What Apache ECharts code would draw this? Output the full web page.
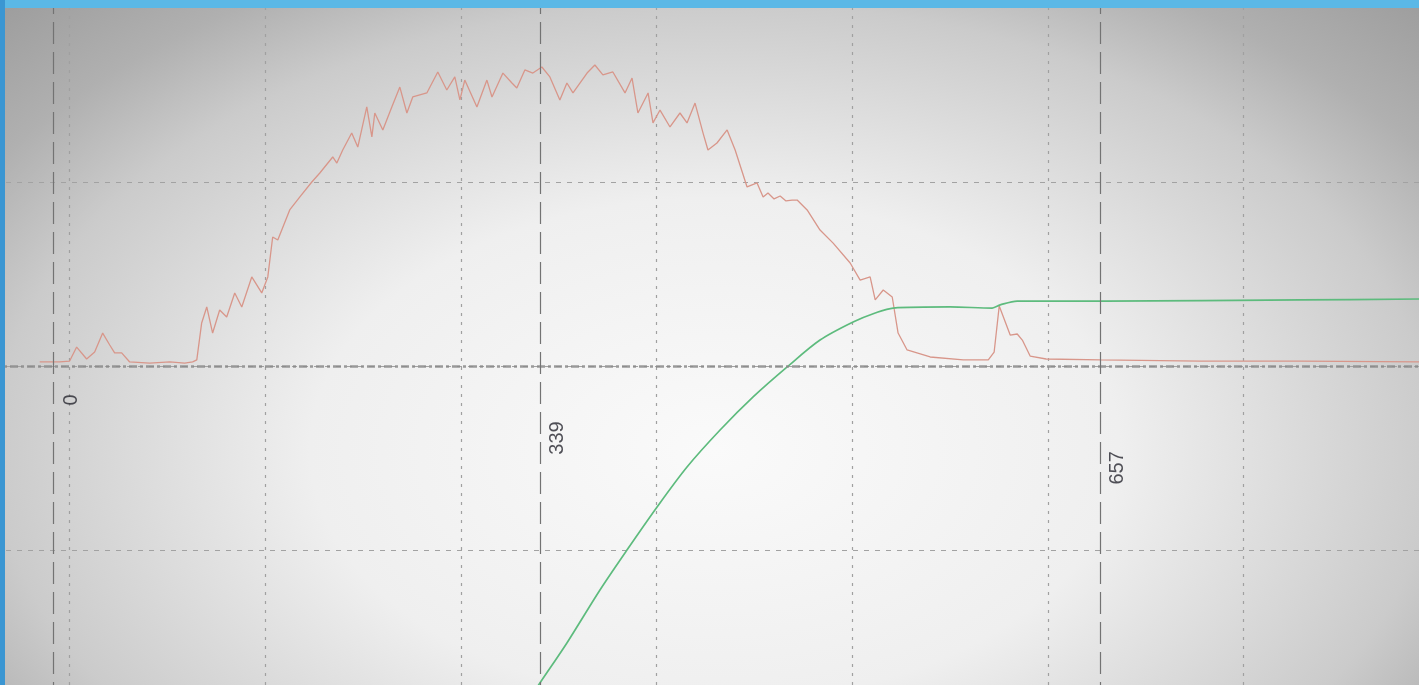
<!DOCTYPE html>
<html>
<head>
<meta charset="utf-8">
<script src="https://cdn.jsdelivr.net/npm/echarts@6/dist/echarts.min.js"></script>
<style>
  html, body { margin: 0; padding: 0; width: 1419px; height: 685px; overflow: hidden; position: relative; }
  #paper {
    position: absolute; left: 0; top: 0; width: 1419px; height: 685px;
    background: radial-gradient(ellipse 900px 560px at 715px 450px,
      #fafafa 0%, #efefef 45%, #cbcbcb 80%, #b0b0b0 95%, #9a9a9a 115%);
  }
  #frameTop { position: absolute; left: 0; top: 0; width: 1419px; height: 8px; background: #5bb8e6; }
  #frameLeft { position: absolute; left: 0; top: 0; width: 5px; height: 685px; background: #3b96d2; }
  /* plot area is larger than the window so the outer grid divisions run off the edges */
  #chart { position: absolute; left: -126px; top: -2px; width: 1565px; height: 736px; }
</style>
</head>
<body>
<div id="paper"></div>
<div id="chart"></div>
<div id="frameTop"></div>
<div id="frameLeft"></div>
<script>
// Trace 1 (red, noisy hump): time positions and amplitudes
const redX = [-15.3, -5.1, 0, 3.6, 8.7, 12.8, 16.9, 20.5, 23.0, 26.6, 30.7, 40.9, 51.2, 58.8, 62.9,
  65.0, 67.5, 70.1, 73.1, 76.7, 80.3, 84.4, 88.0, 93.1, 98.2, 101.3, 103.8, 106.4, 112.5, 117.6,
  123.8, 127.9, 134.5, 136.6, 139.6, 144.2, 147.3, 151.9, 154.5, 156.0, 160.1, 164.7, 168.8, 172.4,
  175.4, 182.6, 188.2, 192.8, 196.9, 199.5, 202.0, 208.2, 213.3, 215.9, 221.5, 226.1, 228.6, 232.7,
  236.8, 241.4, 245.5, 250.6, 254.2, 257.3, 264.5, 268.5, 272.6, 277.7, 283.9, 287.5, 290.5, 295.7,
  298.2, 301.8, 306.9, 312.0, 315.6, 319.7, 323.8, 326.3, 330.9, 336.1, 340.2, 346.3, 351.4, 354.5,
  357.0, 360.1, 363.2, 366.2, 369.3, 371.9, 377.0, 383.6, 390.3, 399.0, 404.1, 409.2, 411.8, 415.9,
  420.5, 423.5, 428.1, 439.9, 456.8, 469.6, 472.6, 475.2, 480.8, 484.4, 487.0, 491.0, 499.2, 526.9,
  578.0, 629.2, 690.0];
const redY = [2.2, 2.2, 2.7, 10.3, 3.8, 7.6, 17.9, 11.4, 7.1, 7.1, 2.2, 1.6, 2.2, 1.6, 2.2,
  3.3, 23.4, 32.1, 17.9, 30.4, 26.6, 39.7, 32.1, 48.4, 39.7, 48.4, 70.1, 68.5, 84.8, 91.8,
  100.0, 104.9, 113.6, 110.3, 117.4, 126.6, 119.0, 140.8, 124.5, 137.5, 128.3, 140.8, 151.6, 137.5,
  146.2, 148.4, 159.8, 150.0, 157.1, 144.6, 155.4, 140.8, 155.4, 146.2, 159.2, 153.8, 151.1, 160.9,
  159.2, 162.5, 157.1, 144.6, 153.8, 148.4, 159.2, 163.6, 158.2, 159.8, 148.4, 156.5, 137.5, 148.4,
  132.1, 139.1, 129.9, 137.5, 132.1, 142.9, 126.6, 117.4, 121.2, 128.3, 117.4, 97.3, 99.5, 91.8,
  94.0, 90.8, 92.4, 89.7, 90.2, 90.2, 84.8, 73.9, 66.8, 56.0, 46.7, 48.4, 35.9, 41.3,
  37.5, 17.9, 8.7, 4.9, 3.3, 3.3, 7.6, 32.6, 16.8, 17.4, 14.1, 5.4, 3.8, 3.3,
  2.7, 2.7, 2.2];

// Trace 2 (green, rising S-curve that settles)
const greenX = [223.0, 240.4, 254.2, 271.1, 284.9, 300.3, 315.6, 332.5, 349.4, 366.8, 383.6, 400.5,
  411.8, 421.0, 450.1, 471.6, 475.7, 484.4, 529.4, 629.2, 690.0];
const greenY = [-200.0, -172.3, -150.5, -121.7, -100.0, -76.6, -54.9, -34.8, -16.8, -0.5, 14.1, 23.9,
  28.8, 31.5, 32.1, 31.5, 33.2, 35.3, 35.3, 35.9, 36.4];

// Cursor markers and their captions
const markerX = [-8.2, 240.4, 526.9];
const markerText = ['0', '339', '657'];

// Axis divisions
const xTicks = { min: -100, max: 700, step: 100 };
const yTicks = { min: -200, max: 200, step: 100 };

// caption placement (data units): shift right of cursor, height of each caption
const CAPTION_DX = 9;
const CAPTION_Y = [-18.5, -39.1, -55.4];

const zip = (xs, ys) => xs.map((x, i) => [x, ys[i]]);

const chart = echarts.init(document.getElementById('chart'), null, { renderer: 'canvas' });

chart.setOption({
  animation: false,
  backgroundColor: 'transparent',
  grid: { left: 0, right: 0, top: 0, bottom: 0, containLabel: false },
  xAxis: {
    type: 'value', min: xTicks.min, max: xTicks.max, interval: xTicks.step,
    axisLine: { show: false }, axisTick: { show: false }, axisLabel: { show: false },
    splitLine: { show: true, lineStyle: { color: '#a0a0a0', width: 1.2, type: [3, 6] } }
  },
  yAxis: {
    type: 'value', min: yTicks.min, max: yTicks.max, interval: yTicks.step,
    axisLine: { show: false }, axisTick: { show: false }, axisLabel: { show: false },
    splitLine: { show: true, lineStyle: { color: '#a2a2a2', width: 1.2, type: [5, 6] } }
  },
  series: [
    {
      // zero reference line and cursor markers
      type: 'line', data: [], silent: true,
      markLine: {
        silent: true, symbol: 'none', animation: false,
        label: { show: false },
        data: [
          { yAxis: 0, lineStyle: { color: '#8a8a8a', width: 2.6, type: [8, 3, 3, 3], opacity: 0.85 } },
          ...markerX.map(x => ({ xAxis: x, lineStyle: { color: '#737373', width: 1.2, type: [22, 8] } }))
        ]
      }
    },
    {
      name: 'trace1', type: 'line', data: zip(redX, redY),
      showSymbol: false, symbol: 'none', smooth: false,
      lineStyle: { color: '#d8968a', width: 1.3 }, z: 3
    },
    {
      name: 'trace2', type: 'line', data: zip(greenX, greenY),
      showSymbol: false, symbol: 'none', smooth: 0.3,
      lineStyle: { color: '#5dbb7d', width: 1.7 }, z: 4
    },
    {
      // cursor captions
      type: 'scatter', symbolSize: 0, silent: true, z: 5,
      data: markerX.map((x, i) => ({ value: [x + CAPTION_DX, CAPTION_Y[i]], name: markerText[i] })),
      label: {
        show: true, position: 'inside', rotate: 90,
        formatter: p => p.name,
        fontFamily: 'Liberation Sans, Arial, sans-serif', fontSize: 20,
        color: '#26262e', align: 'center', verticalAlign: 'middle'
      }
    }
  ]
});
</script>
</body>
</html>
